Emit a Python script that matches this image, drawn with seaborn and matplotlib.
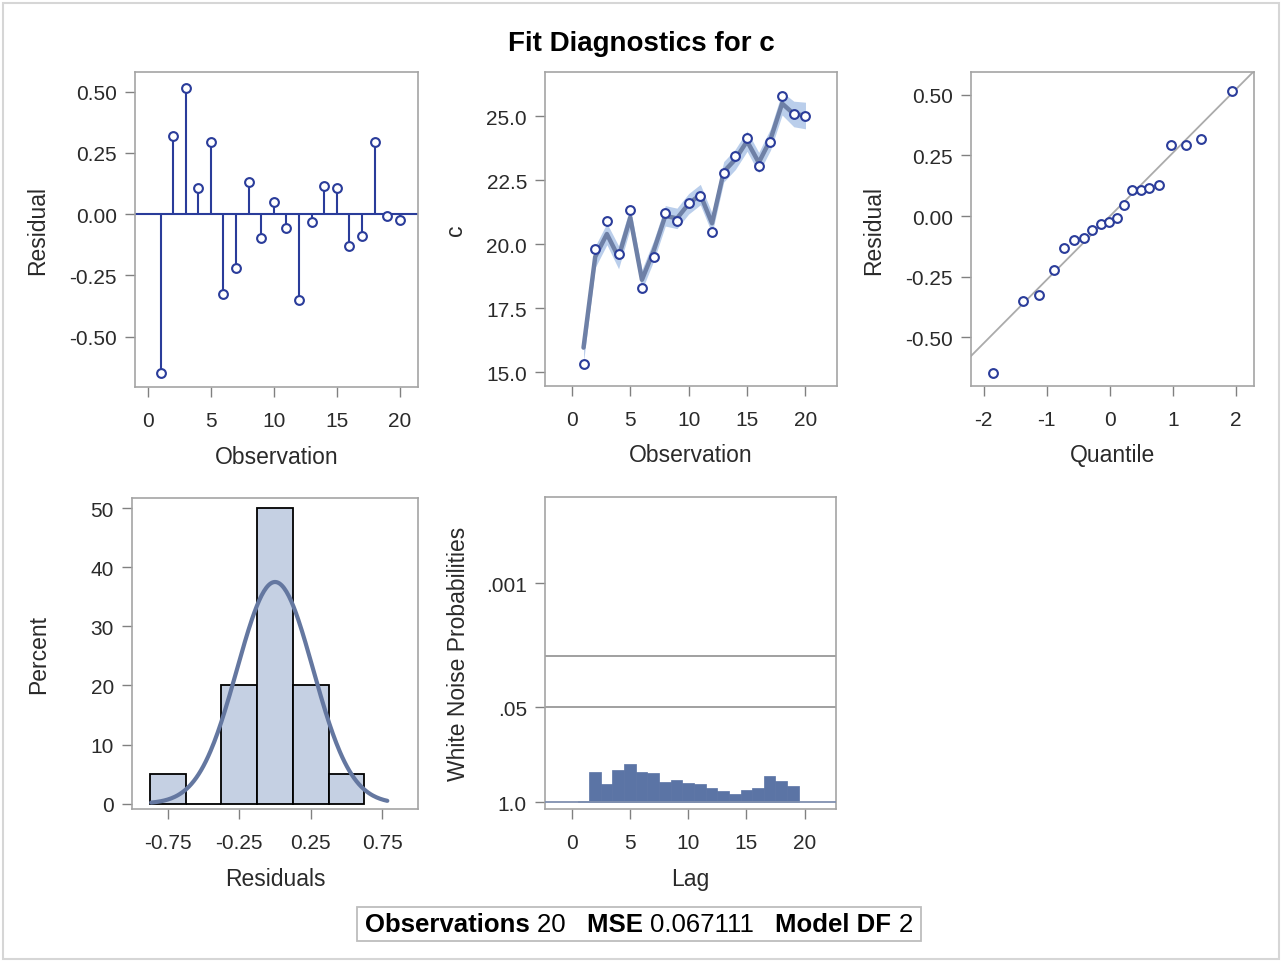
import numpy as np
import pandas as pd
import matplotlib
matplotlib.use("Agg")
import matplotlib.pyplot as plt
from matplotlib.patches import Rectangle
import seaborn as sns

# residuals and fitted values
obs = list(range(1, 21))
residual = [-0.647, 0.32, 0.514, 0.106, 0.295, -0.326, -0.22, 0.13, -0.098, 0.048,
            -0.056, -0.35, -0.033, 0.114, 0.106, -0.13, -0.089, 0.295, -0.008, -0.024]
c_obs = [15.31, 19.83, 20.91, 19.60, 21.33, 18.28, 19.52, 21.24, 20.91, 21.63,
         21.88, 20.47, 22.80, 23.43, 24.14, 23.06, 24.00, 25.79, 25.08, 25.01]
c_pred = [15.96, 19.51, 20.40, 19.49, 21.04, 18.61, 19.74, 21.11, 21.01, 21.58,
          21.94, 20.82, 22.83, 23.32, 24.03, 23.19, 24.09, 25.50, 25.09, 25.03]
c_band = [0.55, 0.42, 0.42, 0.45, 0.42, 0.40, 0.40, 0.40, 0.40, 0.40,
          0.40, 0.40, 0.40, 0.40, 0.40, 0.40, 0.42, 0.45, 0.50, 0.52]

# normal quantile plot
qq_quantile = [-1.85, -1.37, -1.12, -0.88, -0.73, -0.57, -0.41, -0.28, -0.14, -0.02,
               0.11, 0.23, 0.355, 0.49, 0.62, 0.78, 0.96, 1.20, 1.44, 1.93]
qq_resid = [-0.647, -0.35, -0.326, -0.22, -0.13, -0.098, -0.089, -0.056, -0.033, -0.024,
            -0.008, 0.048, 0.106, 0.106, 0.114, 0.13, 0.295, 0.295, 0.32, 0.514]
qq_slope = 0.262

# residual histogram
hist_centers = [-0.75, -0.5, -0.25, 0.0, 0.25, 0.5]
hist_pct = [5, 0, 20, 50, 20, 5]
norm_sigma = 0.266

# white noise probabilities (-log10 p) by lag
lags = list(range(1, 20))
wn_logp = [0.02, 0.42, 0.25, 0.44, 0.53, 0.42, 0.40, 0.28, 0.31, 0.26,
           0.25, 0.20, 0.16, 0.12, 0.17, 0.20, 0.36, 0.29, 0.23]

footer = [("Observations", "20"), ("MSE", "0.067111"), ("Model DF", "2")]

sns.set_theme(style="white")
plt.rcParams["font.family"] = ["Liberation Sans", "DejaVu Sans"]
plt.rcParams["axes.unicode_minus"] = False

FRAME = "#A4A4A4"
MARK = "#2A3C9A"
TXT = "#2A2A2A"

fig = plt.figure(figsize=(12.82, 9.62), dpi=100)
fig.patch.set_facecolor("white")
fig.patches.append(Rectangle((0.002, 0.002), 0.996, 0.994, transform=fig.transFigure,
                             fill=False, edgecolor="#D6D6D6", lw=1.5))


def style_ax(ax, ylab_x, xlab_y):
    for s in ax.spines.values():
        s.set_color(FRAME)
        s.set_linewidth(1.2)
    ax.tick_params(axis="both", which="both", direction="out", length=7, width=1,
                   color="#808080", labelsize=15, labelcolor=TXT,
                   bottom=True, left=True)
    ax.tick_params(axis="x", pad=10)
    ax.tick_params(axis="y", pad=6)
    for lab in (ax.xaxis.label, ax.yaxis.label):
        lab.set_size(16.5)
        lab.set_color(TXT)
    ax.yaxis.set_label_coords(ylab_x, 0.5)
    ax.xaxis.set_label_coords(0.5, xlab_y)


# 1) residual by observation
ax1 = fig.add_axes([0.1053, 0.5967, 0.2207, 0.3274])
ax1.axhline(0, color=MARK, lw=1.5, zorder=1)
ax1.vlines(obs, 0, residual, color=MARK, lw=1.5, zorder=2)
sns.scatterplot(x=obs, y=residual, ax=ax1, marker="o", s=40, facecolor="white",
                edgecolor=MARK, linewidth=1.5, zorder=3)
ax1.set_xlim(-1.03, 21.45)
ax1.set_ylim(-0.706, 0.58)
ax1.set_xticks([0, 5, 10, 15, 20])
ax1.set_yticks([-0.5, -0.25, 0, 0.25, 0.5])
ax1.set_yticklabels([f"{v:.2f}" for v in [-0.5, -0.25, 0, 0.25, 0.5]])
ax1.set_xlabel("Observation")
ax1.set_ylabel("Residual")
style_ax(ax1, -0.302, -0.183)

# 2) c with fitted line and band
ax2 = fig.add_axes([0.4251, 0.5977, 0.2278, 0.3264])
lo = [p - b for p, b in zip(c_pred, c_band)]
hi = [p + b for p, b in zip(c_pred, c_band)]
ax2.fill_between(obs, lo, hi, color="#A9C2E6", alpha=0.8, lw=0, zorder=1)
sns.lineplot(x=obs, y=c_pred, ax=ax2, color="#6E80A6", lw=3.2, zorder=2)
sns.scatterplot(x=obs, y=c_obs, ax=ax2, marker="o", s=40, facecolor="white",
                edgecolor=MARK, linewidth=1.5, zorder=3)
ax2.set_xlim(-2.3, 22.7)
ax2.set_ylim(14.46, 26.73)
ax2.set_xticks([0, 5, 10, 15, 20])
ax2.set_yticks([15, 17.5, 20, 22.5, 25])
ax2.set_yticklabels([f"{v:.1f}" for v in [15, 17.5, 20, 22.5, 25]])
ax2.set_xlabel("Observation")
ax2.set_ylabel("c")
style_ax(ax2, -0.267, -0.183)

# 3) Q-Q plot of residuals
ax3 = fig.add_axes([0.7574, 0.5977, 0.2207, 0.3264])
qx = np.array([-2.3, 2.4])
ax3.plot(qx, qq_slope * qx, color="#ABABAB", lw=1.3, zorder=1)
sns.scatterplot(x=qq_quantile, y=qq_resid, ax=ax3, marker="o", s=40, facecolor="white",
                edgecolor=MARK, linewidth=1.5, zorder=3)
ax3.set_xlim(-2.2, 2.28)
ax3.set_ylim(-0.70, 0.594)
ax3.set_xticks([-2, -1, 0, 1, 2])
ax3.set_yticks([-0.5, -0.25, 0, 0.25, 0.5])
ax3.set_yticklabels([f"{v:.2f}" for v in [-0.5, -0.25, 0, 0.25, 0.5]])
ax3.set_xlabel("Quantile")
ax3.set_ylabel("Residual")
style_ax(ax3, -0.302, -0.183)

# 4) residual histogram with normal curve
ax4 = fig.add_axes([0.103, 0.158, 0.2231, 0.3233])
sns.histplot(x=hist_centers, weights=hist_pct, binwidth=0.25, binrange=(-0.875, 0.625),
             ax=ax4, color="#C5D0E3", alpha=1, edgecolor="black", linewidth=1.3)
xs = np.linspace(-0.866, 0.785, 200)
dens = 100 * 0.25 * np.exp(-0.5 * (xs / norm_sigma) ** 2) / (norm_sigma * np.sqrt(2 * np.pi))
ax4.plot(xs, dens, color="#6477A0", lw=3)
ax4.set_xlim(-1.0, 1.0)
ax4.set_ylim(-0.9, 51.7)
ax4.set_xticks([-0.75, -0.25, 0.25, 0.75])
ax4.set_xticklabels(["-0.75", "-0.25", "0.25", "0.75"])
ax4.set_yticks([0, 10, 20, 30, 40, 50])
ax4.set_xlabel("Residuals")
ax4.set_ylabel("Percent")
style_ax(ax4, -0.288, -0.185)

# 5) white noise probabilities
ax5 = fig.add_axes([0.4251, 0.158, 0.227, 0.3243])
sns.histplot(x=lags, weights=wn_logp, discrete=True, ax=ax5, color="#5B74A5",
             alpha=1, edgecolor="#5B74A5", linewidth=0.5, zorder=2)
for lv in [2.0, 1.301]:
    ax5.axhline(lv, color="#909090", lw=1.2, zorder=1)
ax5.axhline(0, color="#8090B0", lw=1.3, zorder=3)
ax5.set_xlim(-2.3, 22.7)
ax5.set_ylim(-0.09, 4.18)
ax5.set_xticks([0, 5, 10, 15, 20])
ax5.set_yticks([0, 1.301, 3])
ax5.set_yticklabels(["1.0", ".05", ".001"])
ax5.set_xlabel("Lag")
ax5.set_ylabel("White Noise Probabilities")
style_ax(ax5, -0.259, -0.185)

fig.text(0.5, 1 - 44 / 962, "Fit Diagnostics for c", ha="center", va="center",
         fontsize=20, fontweight="bold", color="black")

# footer with bold labels and plain values
fig.canvas.draw()
renderer = fig.canvas.get_renderer()
pieces = []
for lab, val in footer:
    pieces.append((lab + " ", "bold"))
    pieces.append((val + "   ", "normal"))
pieces[-1] = (footer[-1][1], "normal")

texts = []
y_fig = 1 - 925 / 962
for s, w in pieces:
    t = fig.text(0, y_fig, s, fontsize=18.5, fontweight=w, color="black", va="center")
    texts.append(t)
widths = [t.get_window_extent(renderer).width for t in texts]
total = sum(widths)
W = fig.bbox.width
start = 639 - total / 2
for t, wd in zip(texts, widths):
    t.set_x(start / W)
    start += wd
fig.canvas.draw()
bb = [t.get_window_extent(renderer) for t in texts]
x0 = min(b.x0 for b in bb) - 8
x1 = max(b.x1 for b in bb) + 8
fig.patches.append(Rectangle((x0 / W, 1 - 942 / 962), (x1 - x0) / W, 34 / 962,
                             transform=fig.transFigure, fill=False,
                             edgecolor="#BDBDBD", lw=1.3))

fig.savefig("out.png", dpi=100, facecolor="white")
